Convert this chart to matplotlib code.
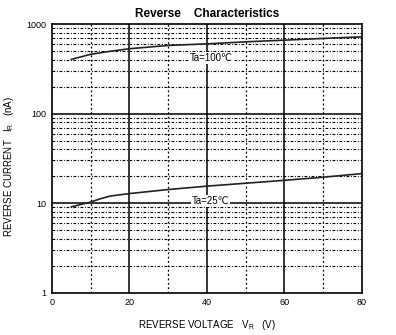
import matplotlib
matplotlib.use("Agg")
import matplotlib.pyplot as plt
import numpy as np

plt.rcParams['font.family'] = ['Liberation Sans', 'DejaVu Sans']

vr_100 = [5, 10, 15, 20, 30, 40, 50, 60, 70, 80]
ir_100 = [404, 460, 497, 531, 578, 602, 634, 662, 692, 721]
vr_25 = [5, 10, 12.5, 15, 20, 30, 40, 50, 60, 70, 80]
ir_25 = [9.1, 10.3, 11.2, 12.0, 12.8, 14.2, 15.5, 16.7, 18.0, 19.5, 21.4]
x_ticks = [0, 20, 40, 60, 80]
y_ticks = [1, 10, 100, 1000]

fig = plt.figure(figsize=(3.96, 3.35), dpi=100)
ax = fig.add_axes([0.1313, 0.1263, 0.7827, 0.8017])
ax.set_yscale('log')
ax.set_xlim(0, 80)
ax.set_ylim(1, 1000)

# grid
for xv in [20, 40, 60]:
    ax.axvline(xv, color='black', lw=1.1, zorder=1)
for xv in [10, 30, 50, 70]:
    ax.axvline(xv, color='black', lw=0.9, ls=(0, (1.5, 2)), zorder=1)
for yv in [10, 100]:
    ax.axhline(yv, color='black', lw=1.1, zorder=1)
for dec in [1, 10, 100]:
    for m in range(2, 10):
        ax.axhline(dec * m, color='black', lw=0.8, ls=(0, (2.5, 1.5, 0.8, 1.5)), zorder=1)

ax.plot(vr_100, ir_100, color='#222222', lw=1.2, zorder=3)
ax.plot(vr_25, ir_25, color='#222222', lw=1.2, zorder=3)

ax.text(41, 420, 'Ta=100\u2103', fontsize=7, ha='center', va='center', zorder=4,
        bbox=dict(facecolor='white', edgecolor='none', pad=0.5))
ax.text(41, 10.6, 'Ta=25\u2103', fontsize=7, ha='center', va='center', zorder=4,
        bbox=dict(facecolor='white', edgecolor='none', pad=0.5))

ax.set_xticks(x_ticks)
ax.set_xticklabels([str(v) for v in x_ticks])
ax.set_yticks(y_ticks)
ax.set_yticklabels([str(v) for v in y_ticks])
ax.yaxis.set_minor_locator(matplotlib.ticker.NullLocator())
ax.tick_params(length=0, labelsize=6.5, pad=4)
for s in ax.spines.values():
    s.set_linewidth(1.2)
    s.set_color('black')

ax.set_title('Reverse    Characteristics', fontsize=8.5, fontweight='bold', pad=5)
ax.set_xlabel('REVERSE VOLTAGE   V$_\\mathregular{R}$   (V)', fontsize=7, labelpad=8)
ax.set_ylabel('REVERSE CURRENT   I$_\\mathregular{R}$   (nA)', fontsize=7, labelpad=6)
ax.yaxis.set_label_coords(-0.115, 0.47)

fig.savefig('out.png', dpi=100)
